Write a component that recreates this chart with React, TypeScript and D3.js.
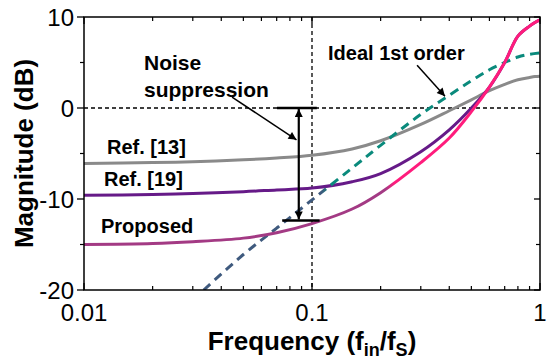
import { useRef, useEffect } from "react";
import * as d3 from "d3";

const freqs = [0.01, 0.02, 0.03, 0.05, 0.07, 0.1, 0.15, 0.2, 0.3, 0.4, 0.5, 0.6, 0.7, 0.8, 0.9, 0.95, 1];
const ref13 = [-6.1, -6.0, -5.9, -5.7, -5.5, -5.2, -4.5, -3.6, -1.8, -0.3, 0.9, 1.9, 2.6, 3.1, 3.35, 3.45, 3.5];
const ref19 = [-9.6, -9.5, -9.4, -9.2, -9.0, -8.8, -8.1, -7.2, -4.8, -2.4, 0.0, 2.3, 5.0, 7.9, 9.0, 9.4, 9.7];
const proposed = [-15.0, -14.9, -14.7, -14.3, -13.7, -12.7, -11.1, -9.3, -6.0, -3.3, -0.4, 2.3, 5.0, 7.9, 9.0, 9.4, 9.7];
const idealFreqs = [0.0335, 0.05, 0.07, 0.1, 0.15, 0.2, 0.3, 0.4, 0.5, 0.6, 0.7, 0.8, 0.9, 1];
const ideal1st = [-20, -16.1, -13.2, -10.1, -6.6, -4.1, -0.7, 1.4, 3.0, 4.2, 5.0, 5.6, 5.9, 6.05];

const xMajor = [0.01, 0.1, 1];
const xMajorLabels = ["0.01", "0.1", "1"];
const yMajor = [-20, -10, 0, 10];
const yMinor = [-15, -5, 5];

const FONT = "Arial, 'Liberation Sans', sans-serif";

const App = () => {
  const chartRef = useRef(null);

  useEffect(() => {
    const el = chartRef.current;
    const W = 550;
    const H = 363;
    const left = 84, right = 540, top = 17, bottom = 290;

    const svg = d3
      .select(el)
      .append("svg")
      .attr("width", W)
      .attr("height", H)
      .style("position", "absolute")
      .style("left", 0)
      .style("top", 0)
      .style("background", "#fff");

    const x = d3.scaleLog().domain([0.01, 1]).range([left, right]);
    const y = d3.scaleLinear().domain([-20, 10]).range([bottom, top]);

    const defs = svg.append("defs");
    const grad = (id: string, stop: number, c1: string, c2: string) => {
      const g = defs
        .append("linearGradient")
        .attr("id", id)
        .attr("gradientUnits", "userSpaceOnUse")
        .attr("x1", left)
        .attr("x2", right)
        .attr("y1", 0)
        .attr("y2", 0);
      const o = (x(stop) - left) / (right - left);
      g.append("stop").attr("offset", 0).attr("stop-color", c1);
      g.append("stop").attr("offset", o).attr("stop-color", c1);
      g.append("stop").attr("offset", o + 0.02).attr("stop-color", c2);
      g.append("stop").attr("offset", 1).attr("stop-color", c2);
    };
    grad("gProp", 0.21, "#a33a84", "#ff1c7c");
    grad("gIdeal", 0.11, "#3f5a7e", "#0a8a7c");

    defs
      .append("marker")
      .attr("id", "ah")
      .attr("viewBox", "0 0 10 10")
      .attr("refX", 10)
      .attr("refY", 5)
      .attr("markerWidth", 12)
      .attr("markerHeight", 8)
      .attr("markerUnits", "userSpaceOnUse")
      .attr("orient", "auto-start-reverse")
      .append("path")
      .attr("d", "M0,0 L10,5 L0,10 Z")
      .attr("fill", "#000");

    const clip = defs.append("clipPath").attr("id", "plot");
    clip.append("rect").attr("x", left).attr("y", top).attr("width", right - left).attr("height", bottom - top);

    // reference dashed lines
    svg
      .append("line")
      .attr("x1", left)
      .attr("x2", right)
      .attr("y1", y(0))
      .attr("y2", y(0))
      .attr("stroke", "#000")
      .attr("stroke-width", 1.3)
      .attr("stroke-dasharray", "4,3");
    svg
      .append("line")
      .attr("x1", x(0.1))
      .attr("x2", x(0.1))
      .attr("y1", top)
      .attr("y2", bottom)
      .attr("stroke", "#000")
      .attr("stroke-width", 1.3)
      .attr("stroke-dasharray", "4,3");

    const line = (xs: number[]) =>
      d3
        .line<number>()
        .x((_d, i) => x(xs[i]))
        .y(d => y(d))
        .curve(d3.curveCatmullRom.alpha(0.5));

    const g = svg.append("g").attr("clip-path", "url(#plot)");
    g.append("path").attr("d", line(freqs)(ref13)).attr("fill", "none").attr("stroke", "#8a8a8a").attr("stroke-width", 3);
    g.append("path").attr("d", line(freqs)(ref19)).attr("fill", "none").attr("stroke", "#661a88").attr("stroke-width", 3);
    g.append("path")
      .attr("d", line(idealFreqs)(ideal1st))
      .attr("fill", "none")
      .attr("stroke", "url(#gIdeal)")
      .attr("stroke-width", 3)
      .attr("stroke-dasharray", "9,6");
    g.append("path").attr("d", line(freqs)(proposed)).attr("fill", "none").attr("stroke", "url(#gProp)").attr("stroke-width", 3);

    // frame
    svg
      .append("rect")
      .attr("x", left)
      .attr("y", top)
      .attr("width", right - left)
      .attr("height", bottom - top)
      .attr("fill", "none")
      .attr("stroke", "#000")
      .attr("stroke-width", 1.5);

    const minorX: number[] = [];
    for (let d = 0.01; d < 1; d *= 10) for (let k = 2; k <= 9; k++) minorX.push(d * k);

    // bottom / top ticks (inward)
    xMajor.forEach(v => {
      svg.append("line").attr("x1", x(v)).attr("x2", x(v)).attr("y1", bottom).attr("y2", bottom - 7).attr("stroke", "#000").attr("stroke-width", 1.3);
      svg.append("line").attr("x1", x(v)).attr("x2", x(v)).attr("y1", top).attr("y2", top + 7).attr("stroke", "#000").attr("stroke-width", 1.3);
    });
    minorX.forEach(v => {
      svg.append("line").attr("x1", x(v)).attr("x2", x(v)).attr("y1", bottom).attr("y2", bottom - 4).attr("stroke", "#000").attr("stroke-width", 1.2);
      svg.append("line").attr("x1", x(v)).attr("x2", x(v)).attr("y1", top).attr("y2", top + 4).attr("stroke", "#000").attr("stroke-width", 1.2);
    });
    xMajor.forEach((v, i) => {
      svg
        .append("text")
        .attr("x", x(v))
        .attr("y", 321)
        .attr("text-anchor", "middle")
        .attr("font-family", FONT)
        .attr("font-size", 24)
        .text(xMajorLabels[i]);
    });

    // left ticks (outward), right ticks (inward)
    yMajor.forEach(v => {
      svg.append("line").attr("x1", left - 7).attr("x2", left).attr("y1", y(v)).attr("y2", y(v)).attr("stroke", "#000").attr("stroke-width", 1.3);
      svg.append("line").attr("x1", right - 6).attr("x2", right).attr("y1", y(v)).attr("y2", y(v)).attr("stroke", "#000").attr("stroke-width", 1.3);
      svg
        .append("text")
        .attr("x", left - 10)
        .attr("y", y(v) + 8.5)
        .attr("text-anchor", "end")
        .attr("font-family", FONT)
        .attr("font-size", 24)
        .text(String(v));
    });
    yMinor.forEach(v => {
      svg.append("line").attr("x1", left - 4).attr("x2", left).attr("y1", y(v)).attr("y2", y(v)).attr("stroke", "#000").attr("stroke-width", 1.2);
      svg.append("line").attr("x1", right - 4).attr("x2", right).attr("y1", y(v)).attr("y2", y(v)).attr("stroke", "#000").attr("stroke-width", 1.2);
    });

    // axis titles
    const xt = svg
      .append("text")
      .attr("x", (left + right) / 2)
      .attr("y", 350)
      .attr("text-anchor", "middle")
      .attr("font-family", FONT)
      .attr("font-weight", "bold")
      .attr("font-size", 26);
    xt.append("tspan").text("Frequency (f");
    xt.append("tspan").attr("font-size", 18).attr("dy", 6).text("in");
    xt.append("tspan").attr("dy", -6).text("/f");
    xt.append("tspan").attr("font-size", 18).attr("dy", 6).text("S");
    xt.append("tspan").attr("dy", -6).text(")");

    svg
      .append("text")
      .attr("transform", `translate(33, ${(top + bottom) / 2}) rotate(-90)`)
      .attr("text-anchor", "middle")
      .attr("font-family", FONT)
      .attr("font-weight", "bold")
      .attr("font-size", 26)
      .text("Magnitude (dB)");

    // labels
    const label = (tx: number, ty: number, s: string, size = 20) =>
      svg
        .append("text")
        .attr("x", tx)
        .attr("y", ty)
        .attr("font-family", FONT)
        .attr("font-weight", "bold")
        .attr("font-size", size)
        .text(s);
    label(107, 154, "Ref. [13]");
    label(104, 186, "Ref. [19]");
    label(101, 233, "Proposed");
    label(328, 60, "Ideal 1st order");
    label(144, 70, "Noise", 21);
    label(144, 97, "suppression", 21);

    // noise suppression arrow
    const fArrow = 0.0875;
    const ann = svg.append("g").attr("stroke", "#000").attr("stroke-width", 2.2);
    ann.append("line").attr("x1", x(0.0702)).attr("x2", x(0.105)).attr("y1", y(0)).attr("y2", y(0)).attr("stroke-width", 2.5);
    ann.append("line").attr("x1", x(0.074)).attr("x2", x(0.108)).attr("y1", y(-12.35)).attr("y2", y(-12.35)).attr("stroke-width", 2.5);
    ann
      .append("line")
      .attr("x1", x(fArrow))
      .attr("x2", x(fArrow))
      .attr("y1", y(0) + 1)
      .attr("y2", y(-12.35) - 1)
      .attr("marker-start", "url(#ah)")
      .attr("marker-end", "url(#ah)");
    ann
      .append("line")
      .attr("x1", x(0.0446))
      .attr("y1", y(1.2))
      .attr("x2", x(0.0855))
      .attr("y2", y(-3.5))
      .attr("stroke-width", 1.5)
      .attr("marker-end", "url(#ah)");
    ann
      .append("line")
      .attr("x1", x(0.289))
      .attr("y1", y(4.7))
      .attr("x2", x(0.383))
      .attr("y2", y(1.3))
      .attr("stroke-width", 1.5)
      .attr("marker-end", "url(#ah)");

    return () => {
      d3.select(el).select("svg").remove();
    };
  }, []);

  return <div ref={chartRef}></div>;
};

export default App;
